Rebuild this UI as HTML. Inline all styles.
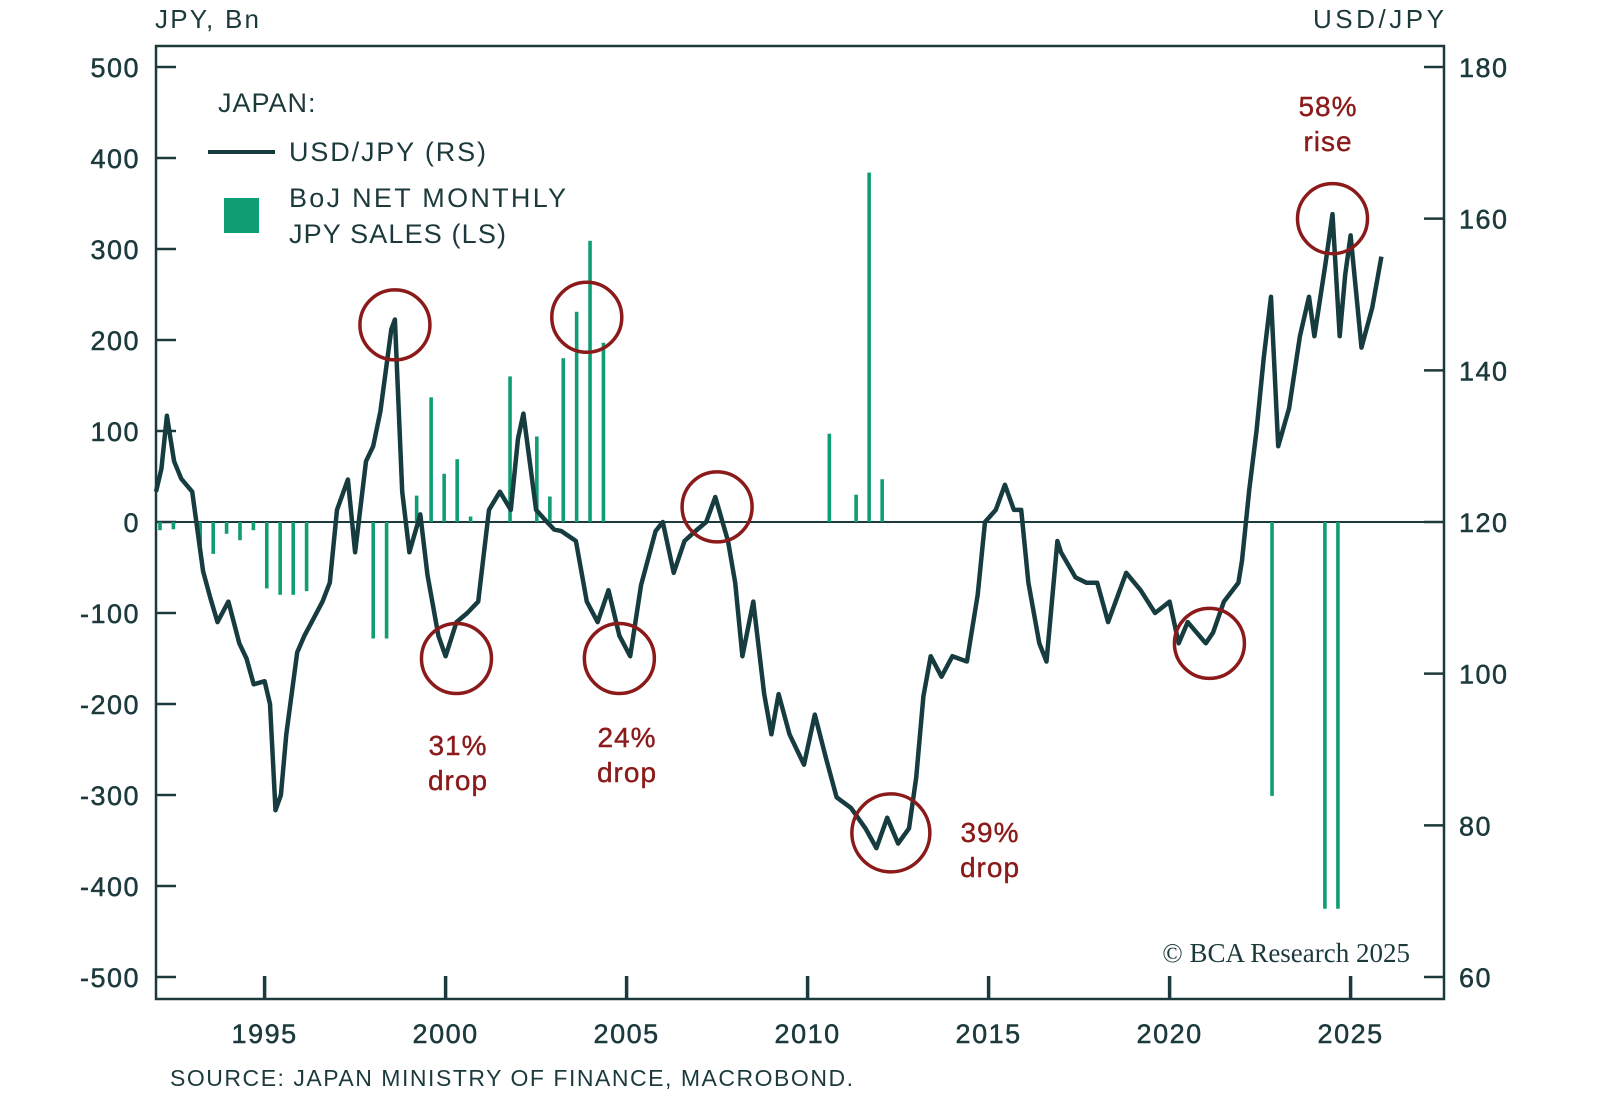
<!DOCTYPE html>
<html><head><meta charset="utf-8"><style>
html,body{margin:0;padding:0;background:#fff;}
svg{display:block;font-family:"Liberation Sans",sans-serif;}
</style></head><body>
<svg id="chart" width="1600" height="1107" viewBox="0 0 1600 1107">
<g id="frame"></g>
<g id="bars"></g>
<g id="line"></g>
<g id="ann"></g>
<g id="legend" letter-spacing="1">
 <text x="218" y="112" font-size="27" fill="#1c3a3c">JAPAN:</text>
 <line x1="208" y1="152" x2="275" y2="152" stroke="#163c3f" stroke-width="4"/>
 <text x="289" y="161" font-size="27" fill="#1c3a3c" textLength="198">USD/JPY (RS)</text>
 <rect x="224" y="198" width="35" height="35" fill="#0f9d74"/>
 <text x="289" y="207" font-size="27" fill="#1c3a3c" textLength="278">BoJ NET MONTHLY</text>
 <text x="289" y="243" font-size="27" fill="#1c3a3c" textLength="218">JPY SALES (LS)</text>
</g>
<text x="155" y="28" font-size="26" fill="#1c3a3c" textLength="104">JPY, Bn</text>
<text x="1444" y="28" font-size="26" fill="#1c3a3c" text-anchor="end" textLength="131">USD/JPY</text>
<text x="170" y="1086" font-size="23" fill="#1c3a3c" textLength="683">SOURCE: JAPAN MINISTRY OF FINANCE, MACROBOND.</text>
<text x="1410" y="962" font-size="27" fill="#1c3a3c" text-anchor="end" font-family="Liberation Serif, serif">© BCA Research 2025</text>
</svg>
<script>
const lineDates=[1992.0,1992.15,1992.3,1992.5,1992.7,1993.0,1993.3,1993.5,1993.7,1994.0,1994.3,1994.5,1994.7,1995.0,1995.15,1995.3,1995.45,1995.6,1995.9,1996.1,1996.3,1996.6,1996.8,1997.0,1997.3,1997.5,1997.8,1998.0,1998.2,1998.5,1998.6,1998.8,1999.0,1999.3,1999.5,1999.8,2000.0,2000.3,2000.6,2000.9,2001.2,2001.5,2001.8,2002.0,2002.15,2002.5,2002.8,2003.0,2003.2,2003.6,2003.9,2004.2,2004.5,2004.8,2005.1,2005.4,2005.8,2006.0,2006.3,2006.6,2006.9,2007.2,2007.45,2007.8,2008.0,2008.2,2008.5,2008.8,2009.0,2009.2,2009.5,2009.9,2010.2,2010.5,2010.8,2011.2,2011.6,2011.9,2012.2,2012.5,2012.8,2013.0,2013.2,2013.4,2013.7,2014.0,2014.4,2014.7,2014.9,2015.2,2015.45,2015.7,2015.9,2016.1,2016.4,2016.6,2016.9,2017.0,2017.4,2017.7,2018.0,2018.3,2018.8,2019.2,2019.6,2020.0,2020.25,2020.5,2021.0,2021.2,2021.5,2021.9,2022.0,2022.2,2022.4,2022.6,2022.8,2023.0,2023.3,2023.6,2023.85,2024.0,2024.3,2024.5,2024.7,2024.85,2025.0,2025.3,2025.6,2025.85];
const lineValues=[124,127,134,128,125.7,124,113.5,110,106.8,109.5,104,102,98.6,99,96,82,84,92,102.8,105,106.8,109.5,112,121.6,125.6,116,128,130,134.6,145.4,146.7,124,116,121,113,105,102.3,106.8,108,109.5,121.6,124,121.6,131,134.3,121.6,120,119,118.8,117.5,109.5,106.8,111,105,102.3,111.7,118.8,120,113.3,117.5,118.8,120,123.3,117.5,112,102.3,109.5,97.3,92,97.3,92,88,94.6,89,83.7,82.3,79.6,77,81,77.6,79.6,86.3,97,102.3,99.6,102.3,101.6,110.4,120,121.6,124.9,121.6,121.6,112,104,101.6,117.5,116,112.7,112,112,106.8,113.3,111,108,109.5,104,106.8,104,105.4,109.5,112,114.9,124.2,132,141.6,149.7,130,135,144.5,149.7,144.5,153.9,160.6,144.5,152.6,157.8,143,148.3,155];
const barDates=[1992.11,1992.48,1993.22,1993.58,1993.95,1994.32,1994.69,1995.06,1995.43,1995.79,1996.16,1998.0,1998.37,1999.2,1999.6,1999.96,2000.32,2000.69,2001.78,2002.52,2002.88,2003.25,2003.62,2003.99,2004.36,2010.6,2011.34,2011.70,2012.06,2022.83,2024.29,2024.65];
const barValues=[-9,-8,-31,-35,-13,-20,-9,-73,-80,-80,-76,-128,-128,29,137,53,69,6,160,94,28,180,231,309,197,97,30,384,47,-301,-425,-425];
const leftTicks=[500,400,300,200,100,0,-100,-200,-300,-400,-500];
const rightTicks=[180,160,140,120,100,80,60];
const xTicks=[1995,2000,2005,2010,2015,2020,2025];
const circles=[[1998.6,146],[2000.3,102],[2003.9,147],[2004.8,102],[2007.5,122],[2012.3,79],[2021.1,104],[2024.5,160]];
const circleRadius=[35,35,35,35,35,39,35,35];

const NS="http://www.w3.org/2000/svg";
const L=156,R=1444,T=46,B=999;
const xs=d=>L+(d-1992)*36.2;
const yl=v=>522-v*0.91;
const yr=v=>522-(v-120)*7.583;
const C="#1c3a3c";
function mk(tag,attrs,parent){const e=document.createElementNS(NS,tag);for(const k in attrs)e.setAttribute(k,attrs[k]);parent.appendChild(e);return e;}
const frame=document.getElementById('frame');
const fr=mk('rect',{x:L,y:T,width:R-L,height:B-T,fill:'none',stroke:C,'stroke-width':2.5},frame);


leftTicks.forEach(v=>{
 const t=mk('line',{x1:L,x2:L+20,y1:yl(v),y2:yl(v),stroke:C,'stroke-width':2.5},frame);
 
 
 const tx=mk('text',{x:140,y:yl(v)+10,'font-size':27,fill:C,'text-anchor':'end','letter-spacing':1.5,stroke:C,'stroke-width':0.5},frame);
 tx.textContent=v;
 
 
});
rightTicks.forEach(v=>{
 const t=mk('line',{x1:R-20,x2:R,y1:yr(v),y2:yr(v),stroke:C,'stroke-width':2.5},frame);
 
 
 const tx=mk('text',{x:1459,y:yr(v)+10,'font-size':27,fill:C,'letter-spacing':1.5,stroke:C,'stroke-width':0.5},frame);
 tx.textContent=v;
 
 
});
xTicks.forEach(v=>{
 const t=mk('line',{x1:xs(v),x2:xs(v),y1:B,y2:B-23,stroke:C,'stroke-width':3.5},frame);
 
 
 const tx=mk('text',{x:xs(v),y:1043,'font-size':27,fill:C,'text-anchor':'middle','letter-spacing':1.5,stroke:C,'stroke-width':0.5},frame);
 tx.textContent=v;
 
 
});
const zl=mk('line',{x1:L,x2:R,y1:yl(0),y2:yl(0),stroke:C,'stroke-width':2},frame);


const bg=document.getElementById('bars');
barDates.forEach((d,i)=>{
 const v=barValues[i];
 const b=mk('rect',{x:xs(d)-1.8,y:Math.min(yl(0),yl(v)),width:3.6,height:Math.abs(yl(v)-yl(0)),fill:'#0f9d74'},bg);
 
 
});
const lg=document.getElementById('line');
const p=mk('path',{d:lineDates.map((d,i)=>(i?'L':'M')+xs(d).toFixed(1)+' '+yr(lineValues[i]).toFixed(1)).join(' '),fill:'none',stroke:'#163c3f','stroke-width':4.5,'stroke-linejoin':'round'},lg);


const ag=document.getElementById('ann');
circles.forEach((c,i)=>{
 const e=mk('circle',{cx:xs(c[0]),cy:yr(c[1]),r:circleRadius[i],fill:'none',stroke:'#8b1a1a','stroke-width':3.5},ag);
 
 
});
[["31%",458,745],["drop",458,780],["24%",627,737],["drop",627,772],["39%",990,832],["drop",990,867],["58%",1328,106],["rise",1328,141]].forEach(a=>{
 const t=mk('text',{x:a[1],y:a[2]+10,'font-size':28,fill:'#8b1a1a','text-anchor':'middle','letter-spacing':1,stroke:'#8b1a1a','stroke-width':0.4},ag);
 t.textContent=a[0];
 
 
});
</script>
</body></html>
